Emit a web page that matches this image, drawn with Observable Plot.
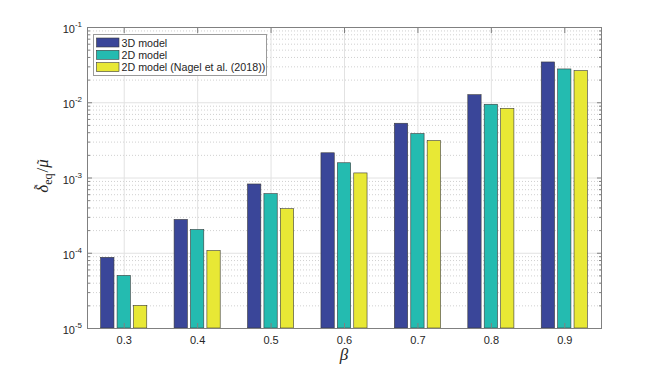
<!DOCTYPE html>
<html><head><meta charset="utf-8">
<script src="https://cdn.jsdelivr.net/npm/d3@7"></script>
<script src="https://cdn.jsdelivr.net/npm/@observablehq/plot@0.6"></script>
<style>body{margin:0;background:#fff} svg{display:block}</style>
</head><body><div id="chart"></div>
<script>
const betas = [0.3, 0.4, 0.5, 0.6, 0.7, 0.8, 0.9];
const seriesNames = ["3D model", "2D model", "2D model (Nagel et al. (2018))"];
const model3D    = [8.7e-5, 2.77e-4, 8.2e-4, 2.13e-3, 5.26e-3, 1.26e-2, 3.43e-2];
const model2D    = [5.0e-5, 2.04e-4, 6.1e-4, 1.57e-3, 3.84e-3, 9.4e-3, 2.77e-2];
const modelNagel = [2.0e-5, 1.07e-4, 3.85e-4, 1.15e-3, 3.1e-3, 8.3e-3, 2.63e-2];
const seriesColors = ["#3a4699", "#24bbb0", "#e8e835"];
const yMajorTicks = [1e-5, 1e-4, 1e-3, 1e-2, 1e-1];
const yTickExponents = ["-5", "-4", "-3", "-2", "-1"];
const xLabel = "β";

const seriesValues = [model3D, model2D, modelNagel];
const table = seriesNames.flatMap((s, k) => betas.map((b, i) => ({beta: b, series: s, value: seriesValues[k][i]})));
const yMinor = yMajorTicks.slice(0, -1).flatMap(t => d3.range(2, 10).map(m => m * t));

const W = 664, H = 369, mL = 87, mR = 63, mT = 27, mB = 41;
const yMin = yMajorTicks[0];
const barStep = 16.4, barW = 13.3;
const bandW = (W - mL - mR) / betas.length;
const inset = (bandW - barW) / 2;
const axisColor = "#808080";
const textColor = "#262626";
const sans = "'Liberation Sans', Arial, sans-serif";
const serif = "'Liberation Serif', 'DejaVu Serif', serif";

const chart = Plot.plot({
  width: W, height: H, marginLeft: mL, marginRight: mR, marginTop: mT, marginBottom: mB,
  style: {fontFamily: sans, fontSize: "11px", color: textColor, background: "#fff"},
  x: {type: "band", domain: betas, padding: 0, round: false, label: null},
  y: {type: "log", domain: [yMajorTicks[0], yMajorTicks[yMajorTicks.length - 1]], label: null},
  marks: [
    Plot.ruleY(yMinor, {stroke: "#c4c4c4", strokeDasharray: "1,2", strokeWidth: 0.8}),
    Plot.ruleY(yMajorTicks, {stroke: "#e2e2e2"}),
    Plot.ruleX(betas, {x: d => d, stroke: "#e2e2e2"}),
    ...seriesNames.map((s, k) => Plot.barY(table.filter(d => d.series === s), {
      x: "beta", y1: yMin, y2: "value", fill: seriesColors[k], stroke: "#3a3a3a", strokeWidth: 0.6,
      dx: (k - 1) * barStep, insetLeft: inset, insetRight: inset
    })),
    Plot.axisX({anchor: "bottom", tickSize: 0, tickPadding: 8, tickFormat: d3.format(".1f"), fill: textColor, label: null}),
    Plot.axisX({anchor: "bottom", tickSize: 5, dy: -5, tickFormat: () => "", stroke: axisColor, label: null}),
    Plot.axisX({anchor: "top", tickSize: 5, dy: 5, tickFormat: () => "", stroke: axisColor, label: null}),
    Plot.axisY(yMajorTicks, {anchor: "left", tickSize: 5, dx: 5, tickFormat: () => "", stroke: axisColor, label: null}),
    Plot.axisY(yMinor, {anchor: "left", tickSize: 3, dx: 3, tickFormat: () => "", stroke: axisColor, label: null}),
    Plot.axisY(yMajorTicks, {anchor: "right", tickSize: 5, dx: -5, tickFormat: () => "", stroke: axisColor, label: null}),
    Plot.axisY(yMinor, {anchor: "right", tickSize: 3, dx: -3, tickFormat: () => "", stroke: axisColor, label: null}),
    Plot.frame({stroke: axisColor})
  ]
});
document.getElementById("chart").appendChild(chart);

const svg = d3.select(chart);
const ys = chart.scale("y");

// y tick labels with superscripts
yMajorTicks.forEach((v, i) => {
  const y = ys.apply(v);
  const t = svg.append("text").attr("x", 82).attr("y", y + 6).attr("text-anchor", "end")
    .attr("font-family", sans).attr("font-size", 11).attr("fill", textColor);
  t.append("tspan").text("10");
  t.append("tspan").attr("dy", -6).attr("font-size", 8).text(yTickExponents[i]);
});

// x axis label
svg.append("text").attr("x", 344).attr("y", 360).attr("text-anchor", "middle")
  .attr("font-family", serif).attr("font-style", "italic")
  .attr("font-size", 17).attr("fill", textColor).text(xLabel);

// y axis label: δ̃eq/μ̃ (tildes placed over the glyphs)
const yg = svg.append("g").attr("transform", "translate(48,176) rotate(-90)");
const yl = yg.append("text").attr("x", 0).attr("y", 0).attr("text-anchor", "middle")
  .attr("font-family", serif).attr("font-size", 17).attr("fill", textColor);
yl.append("tspan").attr("font-style", "italic").text("δ");
yl.append("tspan").attr("font-size", 12).attr("dy", 4).text("eq");
yl.append("tspan").attr("dy", -4).attr("dx", 1).text("/");
yl.append("tspan").attr("font-style", "italic").text("μ");
const node = yl.node();
const nChars = node.getNumberOfChars();
[[0, -4.5, 2], [nChars - 1, -1.5, 1.5]].forEach(([ci, ty, sx]) => {
  const b = node.getExtentOfChar(ci);
  yg.append("text").attr("x", b.x + b.width / 2 + sx).attr("y", ty)
    .attr("text-anchor", "middle").attr("font-family", serif).attr("font-size", 14).attr("fill", textColor)
    .text("˜");
});

// legend
const lg = svg.append("g");
lg.append("rect").attr("x", 93.5).attr("y", 34.5).attr("width", 173).attr("height", 41)
  .attr("fill", "#fff").attr("stroke", "#9a9a9a").attr("stroke-width", 1);
seriesNames.forEach((s, k) => {
  const cy = 42.5 + k * 12.3;
  lg.append("rect").attr("x", 96.5).attr("y", cy - 4.5).attr("width", 22.5).attr("height", 9)
    .attr("fill", seriesColors[k]).attr("stroke", "#3a3a3a").attr("stroke-width", 0.6);
  lg.append("text").attr("x", 121.5).attr("y", cy + 4).attr("text-anchor", "start").attr("font-family", sans)
    .attr("font-size", 10.7).attr("fill", textColor).text(s);
});
</script>
</body></html>
